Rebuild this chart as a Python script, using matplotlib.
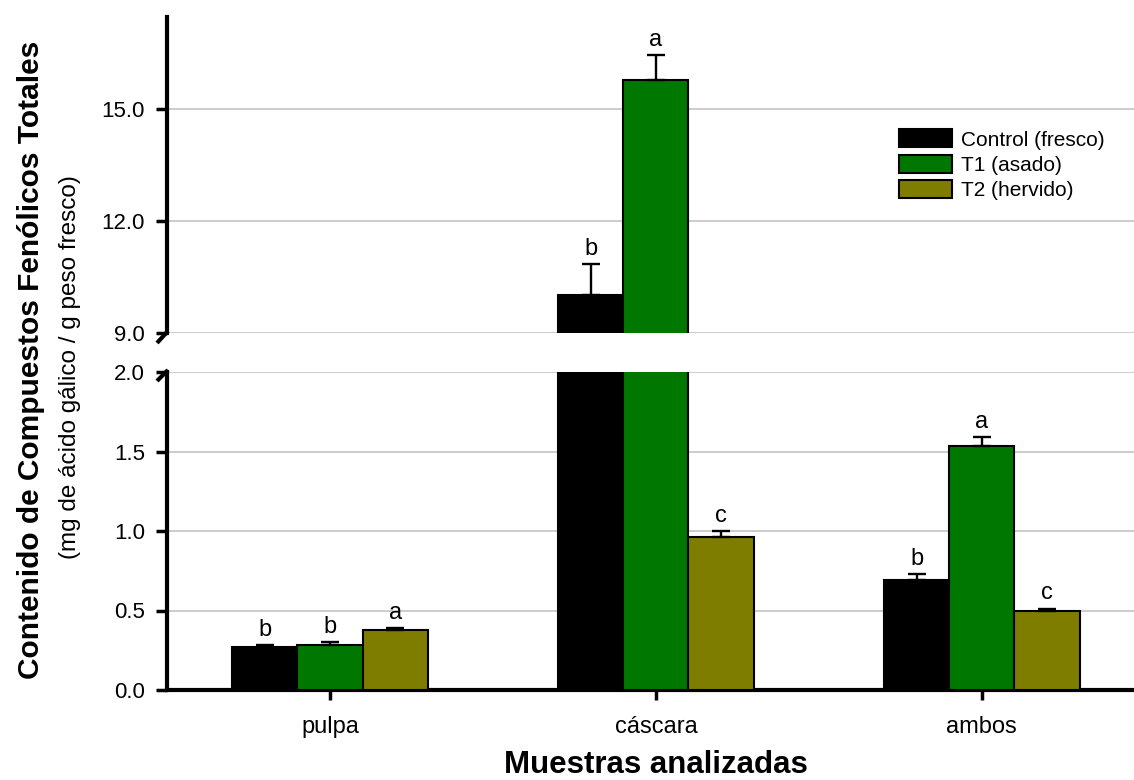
import numpy as np
import matplotlib
matplotlib.use("Agg")
import matplotlib.pyplot as plt
from matplotlib.lines import Line2D
from matplotlib.patches import Patch

plt.rcParams['font.family'] = ['Liberation Sans', 'DejaVu Sans']

# Data: total phenolic compounds (mg gallic acid / g fresh weight)
samples = ["pulpa", "cáscara", "ambos"]
treatments = ["Control (fresco)", "T1 (asado)", "T2 (hervido)"]
control = [0.27, 10.02, 0.69]
t1 = [0.28, 15.78, 1.535]
t2 = [0.38, 0.96, 0.50]
control_err = [0.01, 0.82, 0.04]
t1_err = [0.02, 0.68, 0.055]
t2_err = [0.01, 0.04, 0.012]
control_letters = ["b", "b", "b"]
t1_letters = ["b", "a", "a"]
t2_letters = ["a", "c", "c"]

colors = ["#000000", "#007800", "#7f7d00"]
values = [control, t1, t2]
errors = [control_err, t1_err, t2_err]
letters = [control_letters, t1_letters, t2_letters]

W, H = 1134, 780
fig = plt.figure(figsize=(W / 100, H / 100), dpi=100)

left = 167 / W
width = 1 - left
ax_top = fig.add_axes([left, 1 - 333 / H, width, (333 - 17) / H])
ax_bot = fig.add_axes([left, 1 - 690 / H, width, (690 - 372) / H])

x = np.arange(len(samples))
bw = 0.2
offsets = [-bw, 0.0, bw]

for ax in (ax_top, ax_bot):
    for vals, errs, col, off in zip(values, errors, colors, offsets):
        ax.bar(x + off, vals, width=bw, color=col, edgecolor="black",
               linewidth=1.5, zorder=3)
        ax.errorbar(x + off, vals, yerr=[np.zeros(len(errs)), errs],
                    fmt="none", ecolor="black", elinewidth=1.7,
                    capsize=6.5, capthick=1.7, zorder=4)
    ax.set_xlim(-0.5, 2.467)
    ax.grid(axis="y", color="#c4c4c4", linewidth=1.2, zorder=0)
    ax.set_axisbelow(True)
    for s in ("top", "right"):
        ax.spines[s].set_visible(False)
    ax.spines["left"].set_linewidth(3)
    ax.tick_params(axis="y", direction="out", length=8, width=2.5,
                   labelsize=16, pad=8)

ax_top.set_ylim(9.0, 17.47)
ax_top.set_yticks([9.0, 12.0, 15.0])
ax_top.set_yticklabels(["9.0", "12.0", "15.0"])
ax_top.spines["bottom"].set_visible(False)
ax_top.tick_params(axis="x", bottom=False, labelbottom=False)

ax_bot.set_ylim(0.0, 2.0)
ax_bot.set_yticks([0.0, 0.5, 1.0, 1.5, 2.0])
ax_bot.set_yticklabels(["0.0", "0.5", "1.0", "1.5", "2.0"])
ax_bot.spines["bottom"].set_linewidth(3)
ax_bot.set_xticks(x)
ax_bot.set_xticklabels(samples)
ax_bot.tick_params(axis="x", direction="out", length=7, width=2.5,
                   labelsize=17, pad=12)

# Significance letters above each error bar
for vals, errs, lets, off in zip(values, errors, letters, offsets):
    for xi, v, e, l in zip(x, vals, errs, lets):
        top = v + e
        ax = ax_top if top > 2.0 else ax_bot
        ax.annotate(l, (xi + off, top), xytext=(0, 3),
                    textcoords="offset points", ha="center", va="bottom",
                    fontsize=17)

# Axis break marks
def fig_pt(px, py):
    return px / W, 1 - py / H

for (x0, y0), (x1, y1) in [((168, 331), (157, 343)), ((157, 381), (168, 370))]:
    a = fig_pt(x0, y0)
    b = fig_pt(x1, y1)
    fig.add_artist(Line2D([a[0], b[0]], [a[1], b[1]], color="black",
                          linewidth=3, solid_capstyle="butt"))

# Axis labels
fig.text(31 / W, 1 - 360 / H, "Contenido de Compuestos Fenólicos Totales",
         rotation=90, ha="center", va="center", fontsize=21.5,
         fontweight="bold")
fig.text(70 / W, 1 - 367 / H, "(mg de ácido gálico / g peso fresco)",
         rotation=90, ha="center", va="center", fontsize=17.5)
fig.text(656 / W, 1 - 765 / H, "Muestras analizadas", ha="center",
         va="center", fontsize=22.5, fontweight="bold")

# Legend
handles = [Patch(facecolor=c, edgecolor="black", linewidth=1.5)
           for c in colors]
fig.legend(handles, treatments, loc="upper left",
           bbox_to_anchor=(889 / W, 1 - 119 / H), frameon=False,
           fontsize=15, handlelength=2.5, handleheight=0.95,
           labelspacing=0.25, handletextpad=0.45, borderpad=0.0)

fig.savefig("out.png", dpi=100)
